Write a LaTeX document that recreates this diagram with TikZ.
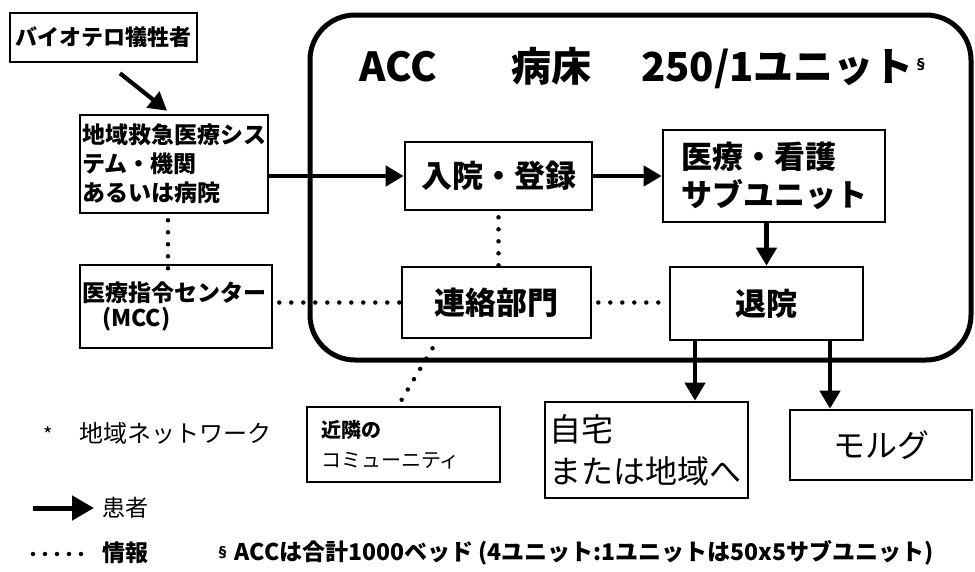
\documentclass[tikz,border=0pt]{standalone}
\usepackage{fontspec}
\setmainfont{Noto Sans CJK JP}
\usetikzlibrary{arrows.meta}
\tikzset{
  box/.style={draw, line width=2.6pt, inner sep=0pt, fill=white},
  accbox/.style={draw, line width=5pt, rounded corners=45pt, inner sep=0pt},
  parrow/.style={line width=4.2pt, -{Triangle[length=18pt,width=20pt]}},
  info/.style={line width=4.5pt, line cap=round, dash pattern=on 0pt off 12pt},
  fb/.style={font=\fontsize{#1}{#1}\selectfont\bfseries},
  fr/.style={font=\fontsize{#1}{#1}\selectfont},
}
\begin{document}
\begin{tikzpicture}[x=1pt,y=-1pt]
\useasboundingbox (0,0) rectangle (975,571);
% big ACC frame
\node[accbox, minimum width=661pt, minimum height=345pt] (acc) at (640.5,187.5) {};
\node[fb=40, anchor=west] (title) at (356,68) {ACC\hspace{74pt}病床\hspace{50pt}250/1ユニット\raisebox{12pt}{\fontsize{14}{14}\selectfont §}};
% boxes
\node[box, fb=22, minimum width=187pt, minimum height=49pt] (victim) at (103.5,37.5) {バイオテロ犠牲者};
\node[box, minimum height=98pt, text width=184pt, inner xsep=2pt, align=left,
  font=\fontsize{23}{29}\selectfont\bfseries] (chiiki) at (174,164) {地域救急医療シス\\テム・機関\\あるいは病院};
\node[box, minimum height=83pt, text width=188pt, inner xsep=2pt, align=left,
  font=\fontsize{23}{25}\selectfont\bfseries] (mcc) at (176,306.5) {医療指令センター\\\hspace*{20pt}(MCC)};
\node[box, fb=31, minimum width=187pt, minimum height=68pt] (nyuin) at (498.5,176) {入院・登録};
\node[box, minimum height=92pt, text width=186pt, inner xsep=18pt, align=left,
  font=\fontsize{31}{38}\selectfont\bfseries] (iryo) at (774,176) {医療・看護\\サブユニット};
\node[box, fb=31, minimum width=189pt, minimum height=71pt] (renraku) at (496.5,302.5) {連絡部門};
\node[box, fb=31, minimum width=193pt, minimum height=73pt] (taiin) at (766.5,303.5) {退院};
\node[box, minimum height=75pt, text width=165pt, inner xsep=14pt, align=left,
  font=\fontsize{20}{30}\selectfont] (kinrin) at (403.5,444.5) {\textbf{近隣の}\\コミューニティ};
\node[box, minimum height=96pt, text width=195pt, inner xsep=4pt, align=left,
  font=\fontsize{32}{42}\selectfont] (jitaku) at (646.5,450) {自宅\\または地域へ};
\node[box, fr=32, minimum width=182pt, minimum height=70pt] (morgue) at (881,445) {モルグ};
% patient flow
\draw[parrow] ([xshift=16.5pt,yshift=-10pt]victim.south) -- ([xshift=-7pt,yshift=3pt]chiiki.north);
\draw[parrow] (chiiki.east |- nyuin.west) -- (nyuin.west);
\draw[parrow] (nyuin.east) -- (iryo.west |- nyuin.east);
\draw[parrow] (iryo.south -| taiin.north) -- (taiin.north);
\draw[parrow] ([xshift=-71.5pt]taiin.south) -- ([xshift=-71.5pt]taiin.south |- jitaku.north);
\draw[parrow] ([xshift=63.5pt]taiin.south) -- ([xshift=63.5pt]taiin.south |- morgue.north);
% information
\draw[info] ([xshift=-6pt,yshift=-6pt]chiiki.south) -- ([xshift=-6pt,yshift=-6pt]chiiki.south |- mcc.north);
\draw[info] ([yshift=-6pt]nyuin.south) -- ([yshift=-6pt]nyuin.south |- renraku.north);
\draw[info] ([xshift=6pt]mcc.east |- renraku.west) -- (renraku.west);
\draw[info] ([xshift=6pt]renraku.east) -- (renraku.east -| taiin.west);
\draw[info] ([xshift=-64pt,yshift=-9pt]renraku.south) -- ([xshift=-3pt,yshift=4pt]kinrin.north);
% legend
\node[fr=20, anchor=center] (star) at (48,435) {*};
\node[fr=24, anchor=west] (netlbl) at (76,433) {地域ネットワーク};
\coordinate (la1) at (33,508);
\coordinate (la2) at (94,508);
\draw[line width=5pt, -{Triangle[length=22pt,width=24pt]}] (la1) -- (la2);
\node[fr=23, anchor=west] (kanja) at (99,508) {患者};
\coordinate (ld1) at (33,554);
\coordinate (ld2) at (82,554);
\draw[info] (ld1) -- (ld2);
\node[fb=23, anchor=west] (joho) at (99,553) {情報};
\node[fb=23, anchor=west] (note) at (212,553) {\raisebox{3pt}{\fontsize{14}{14}\selectfont §} ACCは合計1000ベッド (4ユニット:1ユニットは50x5サブユニット)};
\end{tikzpicture}
\end{document}
